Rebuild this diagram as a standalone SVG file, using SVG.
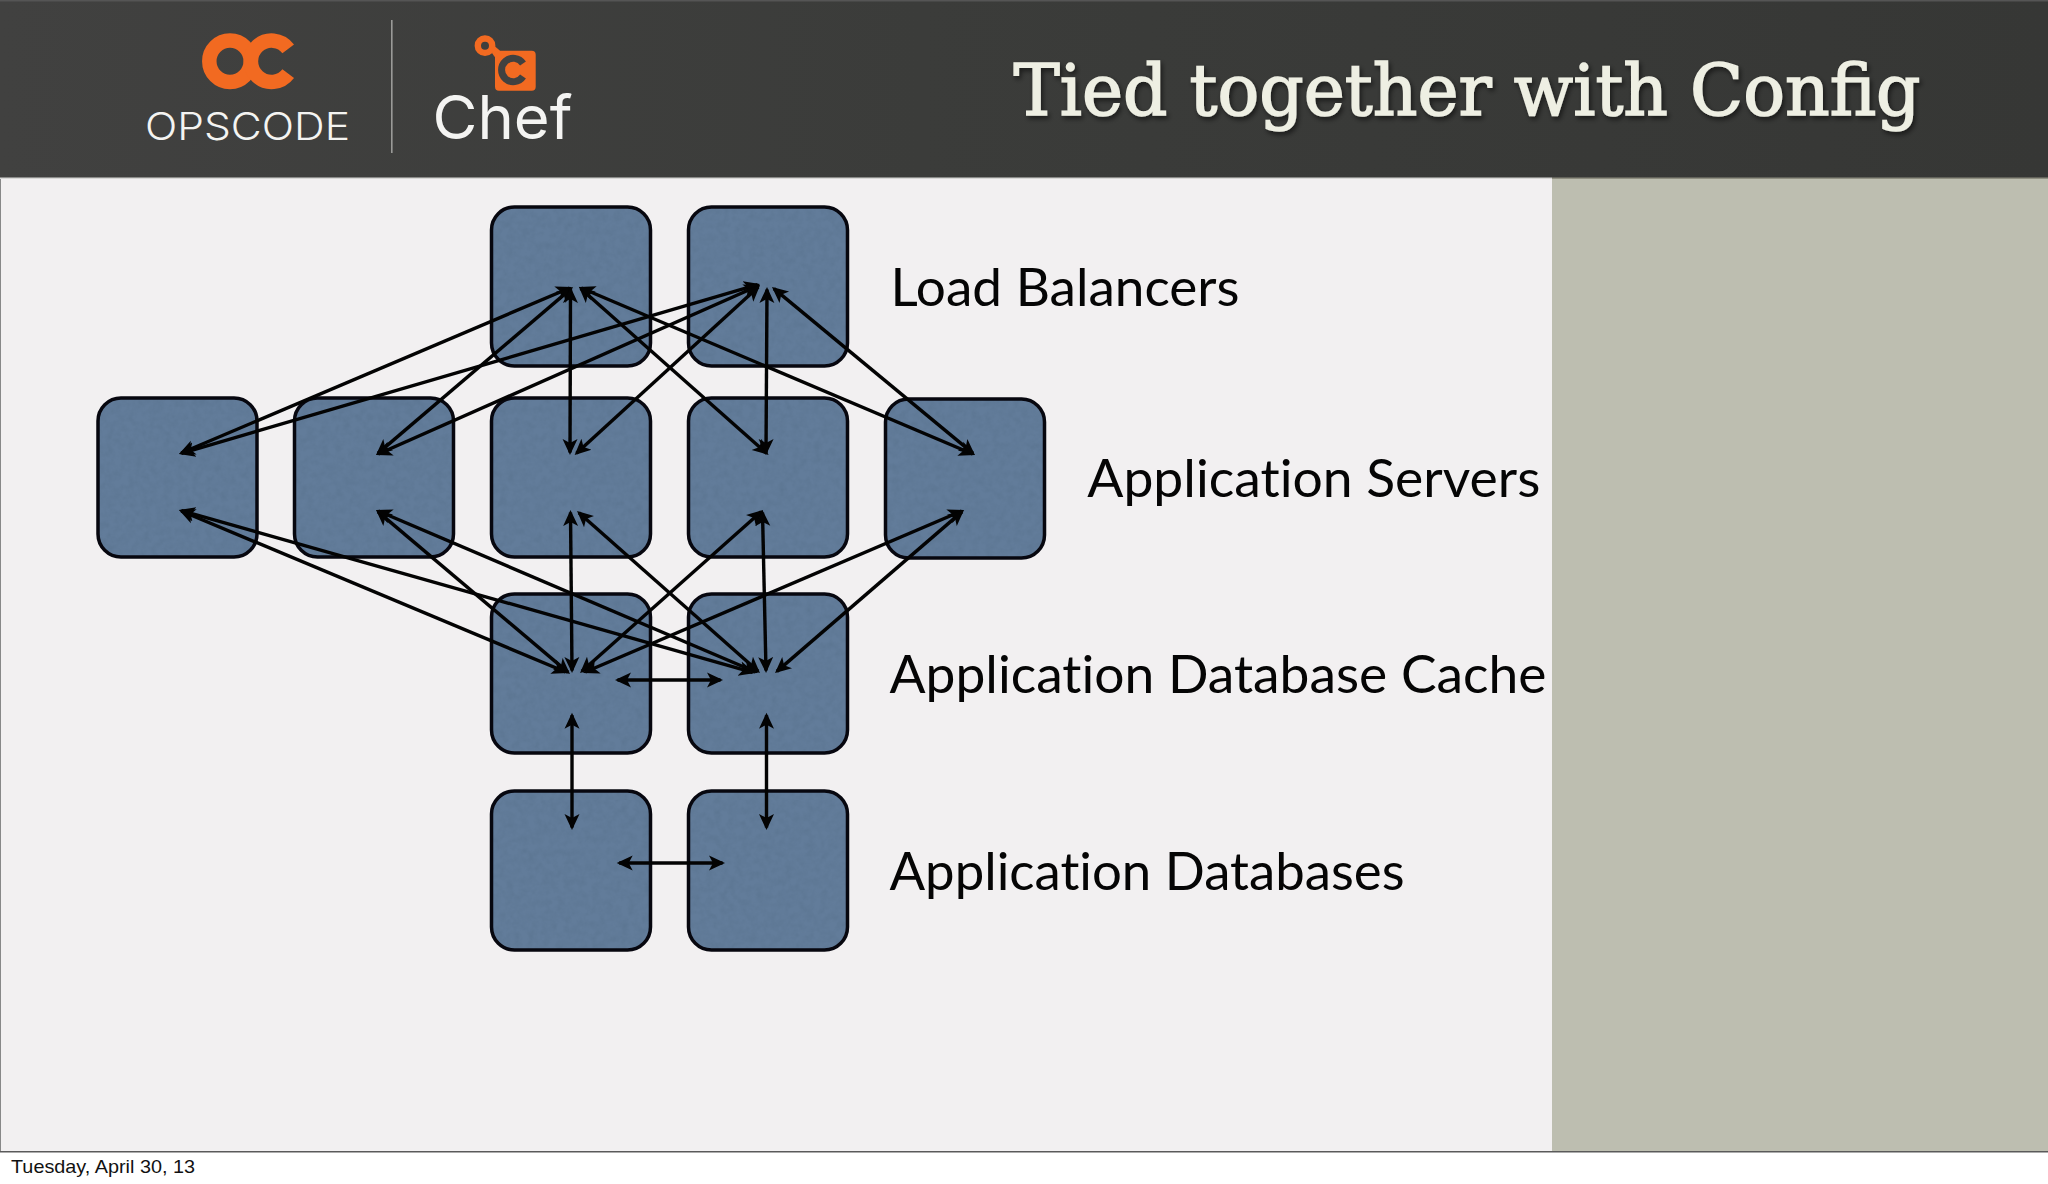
<svg xmlns="http://www.w3.org/2000/svg" width="2048" height="1184" viewBox="0 0 2048 1184">
<style>
.node{fill:url(#tex);stroke:#07070f;stroke-width:3.5}
.link{stroke:#030303;stroke-width:3.4;fill:none;marker-start:url(#ah);marker-end:url(#ah)}
.label{font-family:Lato,"Gill Sans","Noto Sans",sans-serif;font-size:53px;fill:#050505;font-variant-ligatures:none}
.title{font-family:"DejaVu Serif","Liberation Serif",serif;font-size:71px;fill:#eeefe3;stroke:#eeefe3;stroke-width:1.5}
.brand{font-family:Inter,"Liberation Sans",sans-serif;fill:#f4f4f2}
.or{fill:none;stroke:#f26a21}
</style>
<defs>
<linearGradient id="hdr" x1="0" x2="1" y1="0" y2="0"><stop offset="0" stop-color="#414140"/><stop offset=".45" stop-color="#3b3c3a"/><stop offset="1" stop-color="#363735"/></linearGradient>
<filter id="noise" x="0" y="0" width="100%" height="100%" color-interpolation-filters="sRGB">
<feTurbulence type="fractalNoise" baseFrequency=".14" numOctaves="4" seed="4" result="n"/>
<feColorMatrix in="n" type="matrix" values="0 0 0 0 .32  0 0 0 0 .42  0 0 0 0 .52  .4 .4 0 0 -.3"/>
</filter>
<pattern id="tex" patternUnits="userSpaceOnUse" width="1100" height="800">
<rect width="1100" height="800" fill="#627c9a"/>
<rect width="1100" height="800" filter="url(#noise)"/>
</pattern>
<marker id="ah" markerUnits="userSpaceOnUse" markerWidth="20" markerHeight="20" viewBox="0 -10 20 20" refX="13.5" refY="0" orient="auto-start-reverse">
<path d="M16 0L0-7.5L4 0L0 7.5Z" fill="#030303"/>
</marker>
<filter id="sh" x="-5%" y="-20%" width="110%" height="150%"><feDropShadow dx="2" dy="3" stdDeviation="2.5" flood-color="#000" flood-opacity=".55"/></filter>
</defs>

<rect width="2048" height="1184" fill="#fff"/>
<rect x="0" y="178" width="1552" height="974" fill="#f2f0f1"/>
<rect x="1552" y="178" width="496" height="974" fill="#bdbeb0"/>
<rect x="0" y="178" width="1" height="974" fill="#888"/>
<rect x="0" y="1151" width="2048" height="1.5" fill="#5a5a5a"/>
<rect width="2048" height="178.5" fill="url(#hdr)"/>
<rect width="2048" height="1.5" fill="#555"/>
<rect y="177.5" width="1552" height="1.5" fill="#d8d8d6"/>
<rect x="1552" y="177.5" width="496" height="1.5" fill="#8e8e80"/>

<g id="opscode-logo">
<circle class="or" cx="230" cy="61.3" r="20.7" stroke-width="14.5"/>
<path class="or" stroke-width="14.5" d="M288.2 48.9A20.7 20.7 0 1 0 288.2 73.7"/>
<text class="brand" x="145" y="140" font-size="38" font-weight="300" textLength="205" lengthAdjust="spacingAndGlyphs">OPSCODE</text>
</g>
<rect id="logo-divider" x="391" y="20" width="1.6" height="133" fill="#9a9a98"/>
<g id="chef-logo">
<path d="M492 53L495.5 58L500 50.8L494.5 46Z" fill="#f26a21"/>
<circle cx="485" cy="45.7" r="7.2" fill="none" stroke="#f26a21" stroke-width="6.4"/>
<rect x="495" y="50.7" width="40.7" height="40" rx="4" fill="#f26a21"/>
<path d="M523 63.5A11.7 11.7 0 1 0 523 76.5" fill="none" stroke="#414140" stroke-width="7"/>
<text class="brand" x="432.5" y="139" font-size="60" textLength="140" lengthAdjust="spacingAndGlyphs">Chef</text>
</g>
<text id="title" class="title" x="1013.5" y="115" textLength="907" lengthAdjust="spacingAndGlyphs" filter="url(#sh)">Tied together with Config</text>

<g id="nodes">
<g id="lb-1"><rect class="node" x="491.5" y="207" width="159" height="159" rx="23"/></g>
<g id="lb-2"><rect class="node" x="688.5" y="207" width="159" height="159" rx="23"/></g>
<g id="app-1"><rect class="node" x="98" y="398" width="159" height="159" rx="23"/></g>
<g id="app-2"><rect class="node" x="294.5" y="398" width="159" height="159" rx="23"/></g>
<g id="app-3"><rect class="node" x="491.5" y="398" width="159" height="159" rx="23"/></g>
<g id="app-4"><rect class="node" x="688.5" y="398" width="159" height="159" rx="23"/></g>
<g id="app-5"><rect class="node" x="885.5" y="399" width="159" height="159" rx="23"/></g>
<g id="cache-1"><rect class="node" x="491.5" y="594" width="159" height="159" rx="23"/></g>
<g id="cache-2"><rect class="node" x="688.5" y="594" width="159" height="159" rx="23"/></g>
<g id="db-1"><rect class="node" x="491.5" y="791" width="159" height="159" rx="23"/></g>
<g id="db-2"><rect class="node" x="688.5" y="791" width="159" height="159" rx="23"/></g>
</g>

<g id="connectors">
<line class="link" x1="569.7" y1="288" x2="181.3" y2="453"/>
<line class="link" x1="571.1" y1="288.6" x2="377.9" y2="453.4"/>
<line class="link" x1="570.5" y1="289.5" x2="570" y2="452.5"/>
<line class="link" x1="580.7" y1="288.4" x2="766.7" y2="453.3"/>
<line class="link" x1="581.3" y1="288" x2="972.7" y2="454"/>
<line class="link" x1="757.6" y1="284.7" x2="181.4" y2="453.3"/>
<line class="link" x1="757.7" y1="286" x2="378.3" y2="454"/>
<line class="link" x1="758.2" y1="287" x2="576.5" y2="453.3"/>
<line class="link" x1="767" y1="289.5" x2="766" y2="452.5"/>
<line class="link" x1="773.9" y1="288.6" x2="973" y2="453.4"/>
<line class="link" x1="181.3" y1="511" x2="565.7" y2="672"/>
<line class="link" x1="181.4" y1="510.7" x2="752.6" y2="672.3"/>
<line class="link" x1="377.9" y1="511.6" x2="568.1" y2="672.4"/>
<line class="link" x1="378.3" y1="511" x2="755.7" y2="672"/>
<line class="link" x1="570.5" y1="512.5" x2="572" y2="670.5"/>
<line class="link" x1="578.9" y1="512.7" x2="758.1" y2="671.3"/>
<line class="link" x1="761.1" y1="511.7" x2="581.9" y2="671.3"/>
<line class="link" x1="762.5" y1="512.5" x2="766" y2="670.5"/>
<line class="link" x1="961.7" y1="511" x2="585.3" y2="672"/>
<line class="link" x1="962.1" y1="511.6" x2="776.9" y2="671.4"/>
<line class="link" x1="617.5" y1="680" x2="720.5" y2="680"/>
<line class="link" x1="619.2" y1="863" x2="722.5" y2="863"/>
<line class="link" x1="572" y1="715.2" x2="572" y2="827.5"/>
<line class="link" x1="766.5" y1="715.2" x2="766.5" y2="827.5"/>
</g>

<g id="labels">
<text class="label" x="890.5" y="305.5" textLength="349" lengthAdjust="spacingAndGlyphs">Load Balancers</text>
<text class="label" x="1087.3" y="496.5" textLength="453" lengthAdjust="spacingAndGlyphs">Application Servers</text>
<text class="label" x="889.5" y="692.5" textLength="657" lengthAdjust="spacingAndGlyphs">Application Database Cache</text>
<text class="label" x="889.5" y="889.5" textLength="515" lengthAdjust="spacingAndGlyphs">Application Databases</text>
</g>
<text id="date" x="11" y="1173" font-family="'Liberation Sans',Arial,sans-serif" font-size="19" fill="#111" textLength="184" lengthAdjust="spacingAndGlyphs">Tuesday, April 30, 13</text>
</svg>
